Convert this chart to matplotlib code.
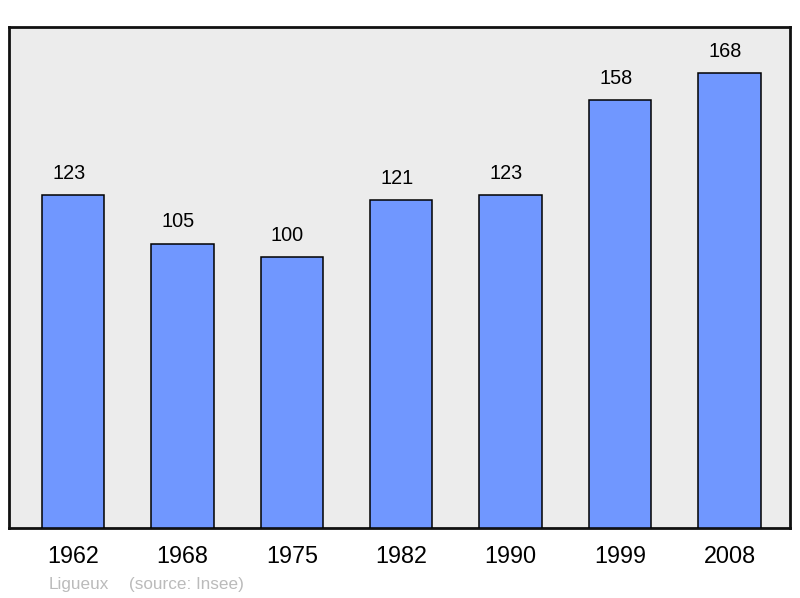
import matplotlib
matplotlib.use("Agg")
import matplotlib.pyplot as plt

years = ["1962", "1968", "1975", "1982", "1990", "1999", "2008"]
population = [123, 105, 100, 121, 123, 158, 168]

plt.rcParams['font.family'] = ['Liberation Sans', 'DejaVu Sans']

fig = plt.figure(figsize=(8, 5.98), dpi=100)
W, H = 800, 598
ax = fig.add_axes([9 / W, 1 - 528 / H, (790 - 9) / W, (528 - 27) / H])
ax.set_facecolor('#ececec')
ax.set_xlim(-0.585, 6.553)
ax.set_ylim(0, 185)

x = list(range(len(years)))
ax.bar(x, population, width=0.57, color='#7097ff', edgecolor='black',
       linewidth=1.1, zorder=3)
for xi, v in zip(x, population):
    ax.text(xi - 0.04, v + 8, str(v), ha='center', va='center', fontsize=14.3, color='black')

for s in ax.spines.values():
    s.set_linewidth(2)
    s.set_color('#111111')
ax.set_xticks(x)
ax.set_xticklabels(years, fontsize=16.8)
ax.tick_params(axis='x', length=0, pad=12)
ax.set_yticks([])

fig.text(49 / W, 1 - 584.5 / H, "Ligueux", color='#bbbbbb', fontsize=12.3, va='center', ha='left')
fig.text(129 / W, 1 - 584.5 / H, "(source: Insee)", color='#bbbbbb', fontsize=12.3, va='center', ha='left')

fig.savefig("out.png", dpi=100, facecolor='white')
